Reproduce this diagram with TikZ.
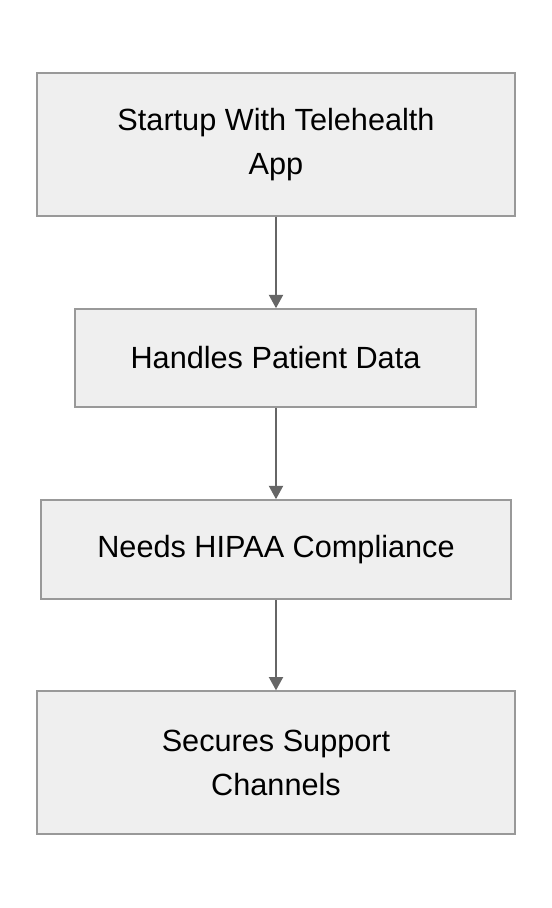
\documentclass[tikz,border=0pt]{standalone}
\usepackage{fontspec}
\setmainfont{Liberation Sans}
\usepackage{tikz}
\usetikzlibrary{arrows.meta,positioning}

\definecolor{boxfill}{HTML}{EFEFEF}
\definecolor{boxline}{HTML}{999999}
\definecolor{arrline}{HTML}{666666}

\tikzset{
  stepbox/.style={draw=boxline, fill=boxfill, line width=1.2pt, align=center,
    inner sep=0pt, font=\fontsize{23}{33}\selectfont},
  flow/.style={draw=arrline, line width=1.5pt, -{Triangle[length=10pt,width=10.5pt]}}
}

\begin{document}
\begin{tikzpicture}[x=0.75pt,y=-0.75pt]
\useasboundingbox (0,0) rectangle (552,908);

\node[stepbox, minimum width=358.5pt, minimum height=107pt] (startup) at (276,144.5) {Startup With Telehealth\\App};
\node[stepbox, minimum width=300.75pt, minimum height=73.5pt] (patient) at (275.5,358) {Handles Patient Data};
\node[stepbox, minimum width=352.5pt, minimum height=74.25pt] (hipaa) at (276,549.5) {Needs HIPAA Compliance};
\node[stepbox, minimum width=358.5pt, minimum height=107pt] (support) at (276,762.5) {Secures Support\\Channels};

\draw[flow] (startup.south -| 276,0) -- (patient.north -| 276,0);
\draw[flow] (patient.south -| 276,0) -- (hipaa.north -| 276,0);
\draw[flow] (hipaa.south -| 276,0) -- (support.north -| 276,0);
\end{tikzpicture}
\end{document}
